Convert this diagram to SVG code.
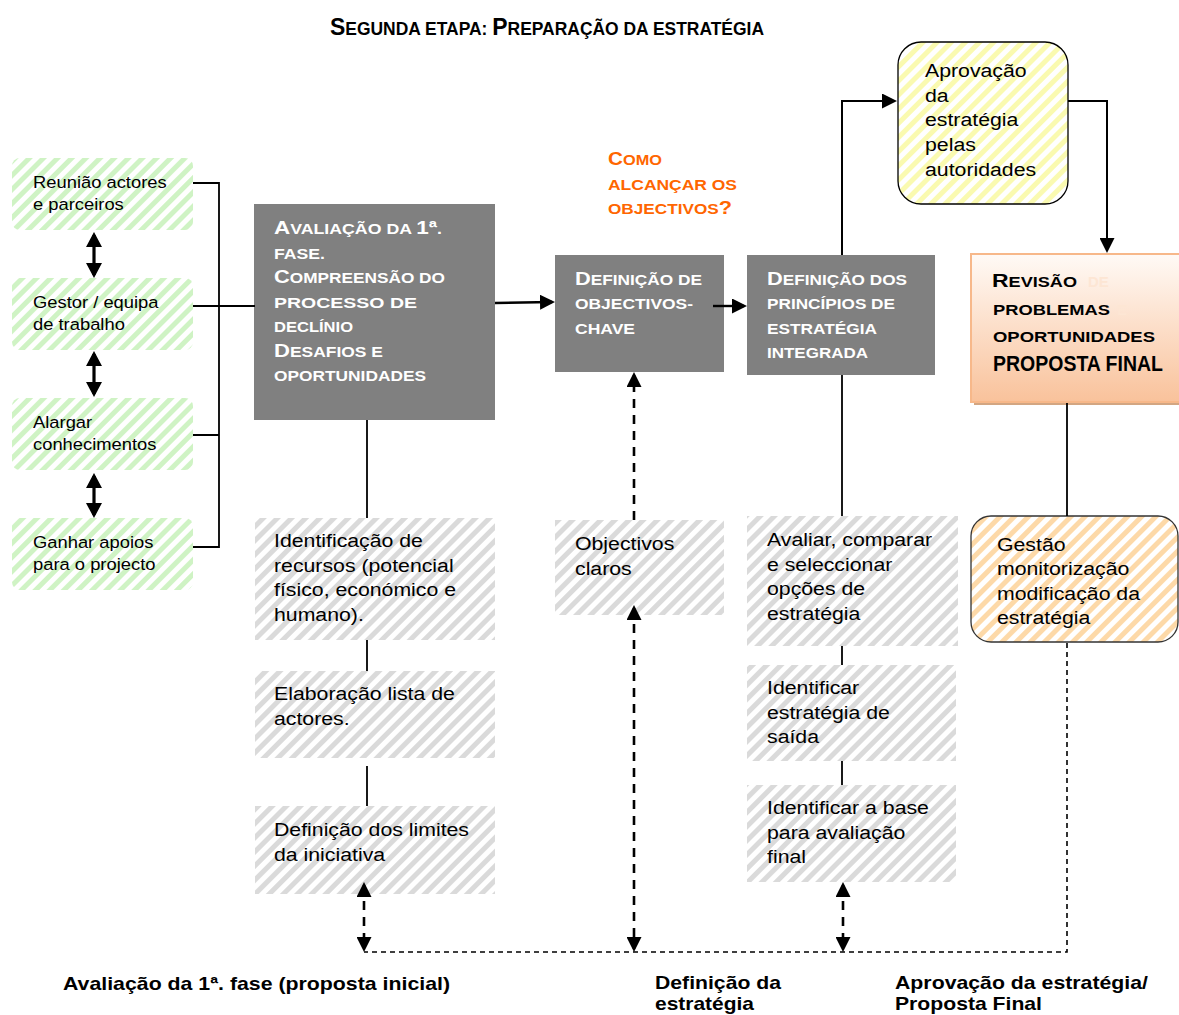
<svg xmlns="http://www.w3.org/2000/svg" width="1179" height="1015" viewBox="0 0 1179 1015">
  <style>
    .tx { font-family: "Liberation Sans", Arial, sans-serif; font-size: 19px; fill: #000; }
    .tg { font-family: "Liberation Sans", Arial, sans-serif; font-size: 17px; fill: #000; }
    .sc { font-family: "Liberation Sans", Arial, sans-serif; font-weight: bold; font-size: 15px; fill: #fff; }
    .scb { fill: #000; }
    .sco { fill: #ff6600; }
    .cap { font-size: 19px; }
    .faint { fill: #fde6d4; }
    .title { font-family: "Liberation Sans", Arial, sans-serif; font-weight: bold; font-size: 17.5px; fill: #000; }
    .lbl { font-family: "Liberation Sans", Arial, sans-serif; font-weight: bold; font-size: 19px; fill: #000; }
    .gbox { fill: #808080; }
    .solid { fill: none; stroke: #000; stroke-width: 1.8; }
    .thick { fill: none; stroke: #000; stroke-width: 3.2; }
    .dash { fill: none; stroke: #000; stroke-width: 2.6; stroke-dasharray: 9 7; }
    .dashthin { fill: none; stroke: #000; stroke-width: 1.6; stroke-dasharray: 5 4; }
  </style>
  <defs>
    <pattern id="hatchGreen" width="10" height="10" patternUnits="userSpaceOnUse" patternTransform="rotate(45)">
      <rect width="10" height="10" fill="#fff"/>
      <rect width="5" height="10" fill="#cff3c4"/>
    </pattern>
    <pattern id="hatchGray" width="10" height="10" patternUnits="userSpaceOnUse" patternTransform="rotate(45)">
      <rect width="10" height="10" fill="#fff"/>
      <rect width="5" height="10" fill="#dadada"/>
    </pattern>
    <pattern id="hatchYellow" width="10" height="10" patternUnits="userSpaceOnUse" patternTransform="rotate(45)">
      <rect width="10" height="10" fill="#fff"/>
      <rect width="5" height="10" fill="#fafab0"/>
    </pattern>
    <pattern id="hatchOrange" width="10" height="10" patternUnits="userSpaceOnUse" patternTransform="rotate(45)">
      <rect width="10" height="10" fill="#fff"/>
      <rect width="5" height="10" fill="#fdd9a8"/>
    </pattern>
    <linearGradient id="peach" x1="0" y1="0" x2="0" y2="1">
      <stop offset="0" stop-color="#fffaf6"/>
      <stop offset="1" stop-color="#f9c29b"/>
    </linearGradient>
    <marker id="arr" viewBox="0 0 15 15" refX="12" refY="7.5" markerWidth="15" markerHeight="15" markerUnits="userSpaceOnUse" orient="auto-start-reverse">
      <path d="M0,0 L15,7.5 L0,15 z" fill="#000"/>
    </marker>
    <marker id="arrL" viewBox="0 0 15 16" refX="12" refY="8" markerWidth="15" markerHeight="16" markerUnits="userSpaceOnUse" orient="auto-start-reverse">
      <path d="M0,0 L15,8 L0,16 z" fill="#000"/>
    </marker>
  </defs>

  <rect width="1179" height="1015" fill="#fff"/>

  <!-- heading -->
  <text class="title" x="330" y="35" textLength="434" lengthAdjust="spacingAndGlyphs"><tspan font-size="23">S</tspan>EGUNDA ETAPA: <tspan font-size="23">P</tspan>REPARAÇÃO DA ESTRATÉGIA</text>

  <!-- left column: preparation activities -->
  <g id="reuniao">
    <rect x="12" y="158" width="181" height="72" rx="8" fill="url(#hatchGreen)"/>
    <text class="tg" transform="translate(33 188) scale(1.08 1)"><tspan x="0">Reunião actores</tspan><tspan x="0" dy="22">e parceiros</tspan></text>
  </g>
  <g id="gestor">
    <rect x="12" y="278" width="181" height="72" rx="8" fill="url(#hatchGreen)"/>
    <text class="tg" transform="translate(33 308) scale(1.08 1)"><tspan x="0">Gestor / equipa</tspan><tspan x="0" dy="22">de trabalho</tspan></text>
  </g>
  <g id="alargar">
    <rect x="12" y="398" width="181" height="72" rx="8" fill="url(#hatchGreen)"/>
    <text class="tg" transform="translate(33 428) scale(1.08 1)"><tspan x="0">Alargar</tspan><tspan x="0" dy="22">conhecimentos</tspan></text>
  </g>
  <g id="ganhar">
    <rect x="12" y="518" width="181" height="72" rx="8" fill="url(#hatchGreen)"/>
    <text class="tg" transform="translate(33 548) scale(1.08 1)"><tspan x="0">Ganhar apoios</tspan><tspan x="0" dy="22">para o projecto</tspan></text>
  </g>

  <!-- first phase assessment -->
  <g id="avaliacao">
    <rect class="gbox" x="254" y="204" width="241" height="216"/>
    <text class="sc" x="274" y="234" textLength="168" lengthAdjust="spacingAndGlyphs"><tspan class="cap">A</tspan>VALIAÇÃO DA <tspan class="cap">1ª</tspan>.</text>
    <text class="sc" x="274" y="258.5" textLength="51" lengthAdjust="spacingAndGlyphs">FASE.</text>
    <text class="sc" x="274" y="283" textLength="171" lengthAdjust="spacingAndGlyphs"><tspan class="cap">C</tspan>OMPREENSÃO DO</text>
    <text class="sc" x="274" y="307.5" textLength="143" lengthAdjust="spacingAndGlyphs">PROCESSO DE</text>
    <text class="sc" x="274" y="332" textLength="79" lengthAdjust="spacingAndGlyphs">DECLÍNIO</text>
    <text class="sc" x="274" y="356.5" textLength="109" lengthAdjust="spacingAndGlyphs"><tspan class="cap">D</tspan>ESAFIOS E</text>
    <text class="sc" x="274" y="381" textLength="152" lengthAdjust="spacingAndGlyphs">OPORTUNIDADES</text>
  </g>

  <g id="recursos">
    <rect x="255" y="518" width="240" height="122" fill="url(#hatchGray)"/>
    <text class="tx" transform="translate(274 547) scale(1.12 1)"><tspan x="0">Identificação de</tspan><tspan x="0" dy="24.6">recursos (potencial</tspan><tspan x="0" dy="24.6">físico, económico e</tspan><tspan x="0" dy="24.6">humano).</tspan></text>
  </g>
  <g id="actores">
    <rect x="255" y="671" width="240" height="87" fill="url(#hatchGray)"/>
    <text class="tx" transform="translate(274 700) scale(1.12 1)"><tspan x="0">Elaboração lista de</tspan><tspan x="0" dy="24.6">actores.</tspan></text>
  </g>
  <g id="limites">
    <rect x="255" y="806" width="240" height="88" fill="url(#hatchGray)"/>
    <text class="tx" transform="translate(274 836) scale(1.12 1)"><tspan x="0">Definição dos limites</tspan><tspan x="0" dy="24.6">da iniciativa</tspan></text>
  </g>

  <!-- key objectives -->
  <g id="como">
    <text class="sc sco" x="608" y="165" textLength="54" lengthAdjust="spacingAndGlyphs"><tspan class="cap">C</tspan>OMO</text>
    <text class="sc sco" x="608" y="190" textLength="129" lengthAdjust="spacingAndGlyphs">ALCANÇAR OS</text>
    <text class="sc sco" x="608" y="214" textLength="124" lengthAdjust="spacingAndGlyphs">OBJECTIVOS<tspan class="cap">?</tspan></text>
  </g>
  <g id="objectivos-chave">
    <rect class="gbox" x="555" y="255" width="169" height="117"/>
    <text class="sc" x="575" y="285" textLength="127" lengthAdjust="spacingAndGlyphs"><tspan class="cap">D</tspan>EFINIÇÃO DE</text>
    <text class="sc" x="575" y="309" textLength="118" lengthAdjust="spacingAndGlyphs">OBJECTIVOS-</text>
    <text class="sc" x="575" y="334" textLength="60" lengthAdjust="spacingAndGlyphs">CHAVE</text>
  </g>
  <g id="objectivos-claros">
    <rect x="555" y="520" width="169" height="95" fill="url(#hatchGray)"/>
    <text class="tx" transform="translate(575 550) scale(1.12 1)"><tspan x="0">Objectivos</tspan><tspan x="0" dy="24.6">claros</tspan></text>
  </g>

  <!-- integrated strategy -->
  <g id="principios">
    <rect class="gbox" x="747" y="255" width="188" height="120"/>
    <text class="sc" x="767" y="285" textLength="140" lengthAdjust="spacingAndGlyphs"><tspan class="cap">D</tspan>EFINIÇÃO DOS</text>
    <text class="sc" x="767" y="309" textLength="128" lengthAdjust="spacingAndGlyphs">PRINCÍPIOS DE</text>
    <text class="sc" x="767" y="334" textLength="110" lengthAdjust="spacingAndGlyphs">ESTRATÉGIA</text>
    <text class="sc" x="767" y="358" textLength="101" lengthAdjust="spacingAndGlyphs">INTEGRADA</text>
  </g>
  <g id="opcoes">
    <rect x="747" y="516" width="211" height="130" fill="url(#hatchGray)"/>
    <text class="tx" transform="translate(767 546) scale(1.12 1)"><tspan x="0">Avaliar, comparar</tspan><tspan x="0" dy="24.6">e seleccionar</tspan><tspan x="0" dy="24.6">opções de</tspan><tspan x="0" dy="24.6">estratégia</tspan></text>
  </g>
  <g id="saida">
    <rect x="747" y="665" width="209" height="96" fill="url(#hatchGray)"/>
    <text class="tx" transform="translate(767 694) scale(1.12 1)"><tspan x="0">Identificar</tspan><tspan x="0" dy="24.6">estratégia de</tspan><tspan x="0" dy="24.6">saída</tspan></text>
  </g>
  <g id="base-avaliacao">
    <rect x="747" y="785" width="209" height="97" fill="url(#hatchGray)"/>
    <text class="tx" transform="translate(767 814) scale(1.12 1)"><tspan x="0">Identificar a base</tspan><tspan x="0" dy="24.6">para avaliação</tspan><tspan x="0" dy="24.6">final</tspan></text>
  </g>

  <!-- approval and final proposal -->
  <g id="aprovacao">
    <rect x="898" y="42" width="170" height="162" rx="23" fill="url(#hatchYellow)" stroke="#000" stroke-width="1.3"/>
    <text class="tx" transform="translate(925 77) scale(1.12 1)"><tspan x="0">Aprovação</tspan><tspan x="0" dy="24.7">da</tspan><tspan x="0" dy="24.7">estratégia</tspan><tspan x="0" dy="24.7">pelas</tspan><tspan x="0" dy="24.7">autoridades</tspan></text>
  </g>
  <g id="revisao">
    <rect x="974" y="257" width="220" height="148" fill="#d3a682"/>
    <rect x="971" y="254" width="220" height="148" fill="url(#peach)" stroke="#f7b88a" stroke-width="2"/>
    <text class="sc scb" x="992" y="287" textLength="85" lengthAdjust="spacingAndGlyphs"><tspan class="cap">R</tspan>EVISÃO</text>
    <text class="sc faint" x="1088" y="287">DE</text>
    <text class="sc scb" x="993" y="315" textLength="117" lengthAdjust="spacingAndGlyphs">PROBLEMAS</text>
    <text class="sc faint" x="1117" y="315">E</text>
    <text class="sc scb" x="993" y="342" textLength="162" lengthAdjust="spacingAndGlyphs">OPORTUNIDADES</text>
    <text class="sc scb" x="993" y="371" style="font-size:22px" textLength="170" lengthAdjust="spacingAndGlyphs">PROPOSTA FINAL</text>
  </g>
  <g id="gestao">
    <rect x="971" y="516" width="207" height="126" rx="20" fill="url(#hatchOrange)" stroke="#333" stroke-width="1.3"/>
    <text class="tx" transform="translate(997 551) scale(1.12 1)"><tspan x="0">Gestão</tspan><tspan x="0" dy="24.4">monitorização</tspan><tspan x="0" dy="24.4">modificação da</tspan><tspan x="0" dy="24.4">estratégia</tspan></text>
  </g>

  <!-- connectors -->
  <g id="connectors">
    <path class="solid" d="M193,183 H219 V547 H193 M193,435 H219 M193,306 H255"/>
    <line class="thick" x1="94" y1="235" x2="94" y2="275" marker-start="url(#arrL)" marker-end="url(#arrL)"/>
    <line class="thick" x1="94" y1="354" x2="94" y2="394" marker-start="url(#arrL)" marker-end="url(#arrL)"/>
    <line class="thick" x1="94" y1="476" x2="94" y2="515" marker-start="url(#arrL)" marker-end="url(#arrL)"/>
    <line class="solid" style="stroke-width:2.6" x1="495" y1="303" x2="552" y2="302" marker-end="url(#arr)"/>
    <line class="solid" style="stroke-width:2.4" x1="713" y1="306" x2="744" y2="306" marker-end="url(#arr)"/>
    <path class="solid" style="stroke-width:2" d="M842,255 V101 H894" marker-end="url(#arr)"/>
    <path class="solid" style="stroke-width:2" d="M1068,101 H1107 V250" marker-end="url(#arr)"/>
    <line class="solid" x1="1067" y1="403" x2="1067" y2="516"/>
    <path class="dashthin" d="M1067,643 V952 H364"/>
    <line class="solid" x1="367" y1="420" x2="367" y2="518"/>
    <line class="solid" x1="367" y1="640" x2="367" y2="671"/>
    <line class="solid" x1="367" y1="766" x2="367" y2="806"/>
    <line class="solid" x1="842" y1="375" x2="842" y2="516"/>
    <line class="solid" x1="842" y1="646" x2="842" y2="665"/>
    <line class="solid" x1="842" y1="761" x2="842" y2="785"/>
    <line class="dash" x1="364" y1="885" x2="364" y2="949" marker-start="url(#arr)" marker-end="url(#arr)"/>
    <line class="dash" x1="634" y1="520" x2="634" y2="375" marker-end="url(#arr)"/>
    <line class="dash" x1="634" y1="608" x2="634" y2="949" marker-start="url(#arr)" marker-end="url(#arr)"/>
    <line class="dash" x1="843" y1="885" x2="843" y2="949" marker-start="url(#arr)" marker-end="url(#arr)"/>
  </g>

  <!-- phase labels -->
  <g id="labels">
    <text class="lbl" x="63" y="990" textLength="387" lengthAdjust="spacingAndGlyphs">Avaliação da 1ª. fase (proposta inicial)</text>
    <text class="lbl" x="655" y="989" textLength="126" lengthAdjust="spacingAndGlyphs">Definição da</text>
    <text class="lbl" x="655" y="1010" textLength="99" lengthAdjust="spacingAndGlyphs">estratégia</text>
    <text class="lbl" x="895" y="989" textLength="253" lengthAdjust="spacingAndGlyphs">Aprovação da estratégia/</text>
    <text class="lbl" x="895" y="1010" textLength="147" lengthAdjust="spacingAndGlyphs">Proposta Final</text>
  </g>
</svg>
